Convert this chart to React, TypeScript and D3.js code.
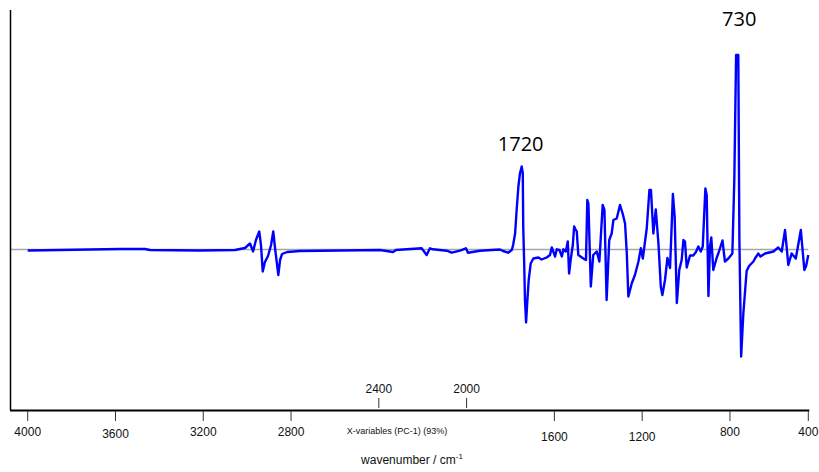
import React from 'react';
import * as d3 from 'd3';

// PC-1 loading spectrum (wavenumber in cm-1, loading)
const wavenumbers = [
  4000, 3853, 3579, 3465, 3443, 3215, 3055, 3010, 2987, 2973, 2960, 2945, 2937, 2929, 2919, 2905,
  2891, 2881, 2873, 2858, 2850, 2841, 2818, 2759, 2577, 2395, 2335, 2322, 2205, 2182, 2167, 2153,
  2091, 2068, 2030, 2003, 1994, 1939, 1848, 1834, 1811, 1794, 1788, 1779, 1772, 1764, 1757, 1749,
  1744, 1742, 1738, 1734, 1729, 1723, 1717, 1708, 1696, 1673, 1658, 1635, 1620, 1612, 1605, 1597,
  1589, 1577, 1566, 1559, 1548, 1539, 1533, 1526, 1516, 1510, 1506, 1498, 1491, 1468, 1456, 1450,
  1445, 1434, 1423, 1407, 1395, 1380, 1372, 1362, 1350, 1339, 1331, 1316, 1301, 1289, 1278, 1270,
  1263, 1247, 1233, 1217, 1206, 1197, 1179, 1167, 1160, 1149, 1138, 1126, 1115, 1108, 1096, 1085,
  1073, 1060, 1052, 1042, 1031, 1020, 1012, 1005, 997, 982, 967, 955, 944, 933, 924, 912,
  906, 898, 891, 885, 876, 860, 853, 834, 823, 807, 789, 780, 772, 762, 757, 749,
  739, 724, 713, 693, 686, 671, 661, 640, 602, 580, 564, 549, 534, 519, 500, 477,
  461, 453, 443
];
const loadings = [
  -0.001, -0.0005, 0.0005, 0.0005, -0.0005, -0.001, -0.0005, 0.0015, 0.006, -0.002, 0.0095, 0.018, 0.0045, -0.022, -0.0125, -0.0065,
  0.0045, 0.018, 0.0015, -0.0255, -0.0105, -0.0045, -0.0025, -0.0015, -0.001, -0.0005, -0.0025, -0.0005, 0.0012, -0.0055, 0.0012, 0.0002,
  -0.0012, -0.0032, -0.0012, 0.0012, -0.0032, -0.0012, 0, -0.0015, -0.0032, -0.0005, 0.0045, 0.016, 0.0395, 0.063, 0.076, 0.083,
  0.076, 0.023, -0.0105, -0.0505, -0.073, -0.0505, -0.0305, -0.014, -0.009, -0.008, -0.01, -0.008, -0.0055, 0.002, -0.002, -0.007,
  0.0002, -0.0005, -0.007, 0.0002, -0.002, 0.008, -0.024, -0.0105, 0.0045, 0.023, 0.021, 0.018, -0.0055, -0.009, -0.0105, 0.0495,
  0.046, -0.037, -0.0055, -0.002, -0.012, 0.0445, 0.0395, -0.0505, 0.0095, 0.016, 0.0295, 0.031, 0.0445, 0.036, 0.026, -0.004,
  -0.047, -0.0335, -0.0255, -0.012, 0.0012, -0.009, 0.0215, 0.0595, 0.0595, 0.016, 0.04, 0.0065, -0.0375, -0.0455, -0.0305, -0.0085,
  -0.0185, 0.0555, 0.033, -0.0535, -0.0205, -0.0105, 0.0095, 0.008, -0.018, -0.006, -0.006, -0.0025, 0.003, -0.002, 0.003, 0.061,
  0.0545, -0.0465, 0.003, 0.012, -0.0205, -0.008, -0.004, 0.009, -0.012, -0.009, -0.004, 0.0715, 0.1945, 0.1945, 0.0095, -0.107,
  -0.064, -0.0215, -0.0165, -0.012, -0.009, -0.004, -0.007, -0.004, -0.002, 0.002, -0.002, 0.0195, -0.0155, -0.004, -0.009, 0.0195,
  -0.0205, -0.0165, -0.0055
];

const lowerTicks = [4000, 3600, 3200, 2800, 1600, 1200, 800];
const lowerTickShift = [0, 2, 0, 0, 5, 5, 0];
const upperTicks = [2400, 2000];
const lastTickLabel = '400';

const peaks = [
  { label: '1720', at: 1749 },
  { label: '730', at: 767 }
];

const width = 819;
const height = 472;

const x = d3.scaleLinear().domain([4000, 443]).range([27.7, 808.3]);
const y = d3.scaleLinear().domain([-0.1605, 0.2395]).range([410, 10]);

const points: [number, number][] = wavenumbers.map((w, i) => [w, loadings[i]]);

const line = d3
  .line<[number, number]>()
  .x(d => x(d[0]))
  .y(d => y(d[1]));

const axisFont = '"Liberation Sans", Arial, sans-serif';

export default function App() {
  const end = x.domain()[1];
  return (
    <svg width={width} height={height} style={{ position: 'absolute', left: 0, top: 0 }}>
      <rect width={width} height={height} fill="#fff" />
      {/* zero line */}
      <line x1={10} x2={x(end)} y1={y(0)} y2={y(0)} stroke="#a6a6a6" strokeWidth={1.5} />
      <path d={line(points) || ''} fill="none" stroke="#0000ff" strokeWidth={2.4} strokeLinejoin="round" />

      {/* axes */}
      <line x1={10.5} x2={10.5} y1={10} y2={410} stroke="#000" strokeWidth={1.5} />
      <line x1={10} x2={x(end) + 1} y1={410.5} y2={410.5} stroke="#000" strokeWidth={2.2} />

      {lowerTicks.map((t, i) => (
        <g key={t} transform={`translate(${x(t)},0)`}>
          <line y1={411} y2={421} stroke="#333" strokeWidth={1} />
          <text y={436 + lowerTickShift[i]} textAnchor="middle" fontFamily={axisFont} fontSize={12} fill="#111">
            {t}
          </text>
        </g>
      ))}
      <g transform={`translate(${x(end)},0)`}>
        <line y1={411} y2={421} stroke="#333" strokeWidth={1} />
        <text y={436} textAnchor="middle" fontFamily={axisFont} fontSize={12} fill="#111">
          {lastTickLabel}
        </text>
      </g>
      {upperTicks.map(t => (
        <g key={t} transform={`translate(${x(t)},0)`}>
          <line y1={398} y2={408} stroke="#333" strokeWidth={1} />
          <text y={393} textAnchor="middle" fontFamily={axisFont} fontSize={12} fill="#111">
            {t}
          </text>
        </g>
      ))}

      <text x={397} y={434} textAnchor="middle" fontFamily={axisFont} fontSize={9} fill="#111">
        X-variables (PC-1) (93%)
      </text>
      <text x={412} y={464} textAnchor="middle" fontFamily={axisFont} fontSize={12} fill="#111">
        wavenumber / cm<tspan dy={-5} fontSize={8}>-1</tspan>
      </text>

      {peaks.map(p => (
        <text
          key={p.label}
          x={x(p.at) + (p.label === '730' ? 2 : -1)}
          y={p.label === '730' ? 26 : 151}
          textAnchor="middle"
          fontFamily='"Open Sans", sans-serif'
          fontSize={20}
          fill="#000"
        >
          {p.label}
        </text>
      ))}
    </svg>
  );
}
